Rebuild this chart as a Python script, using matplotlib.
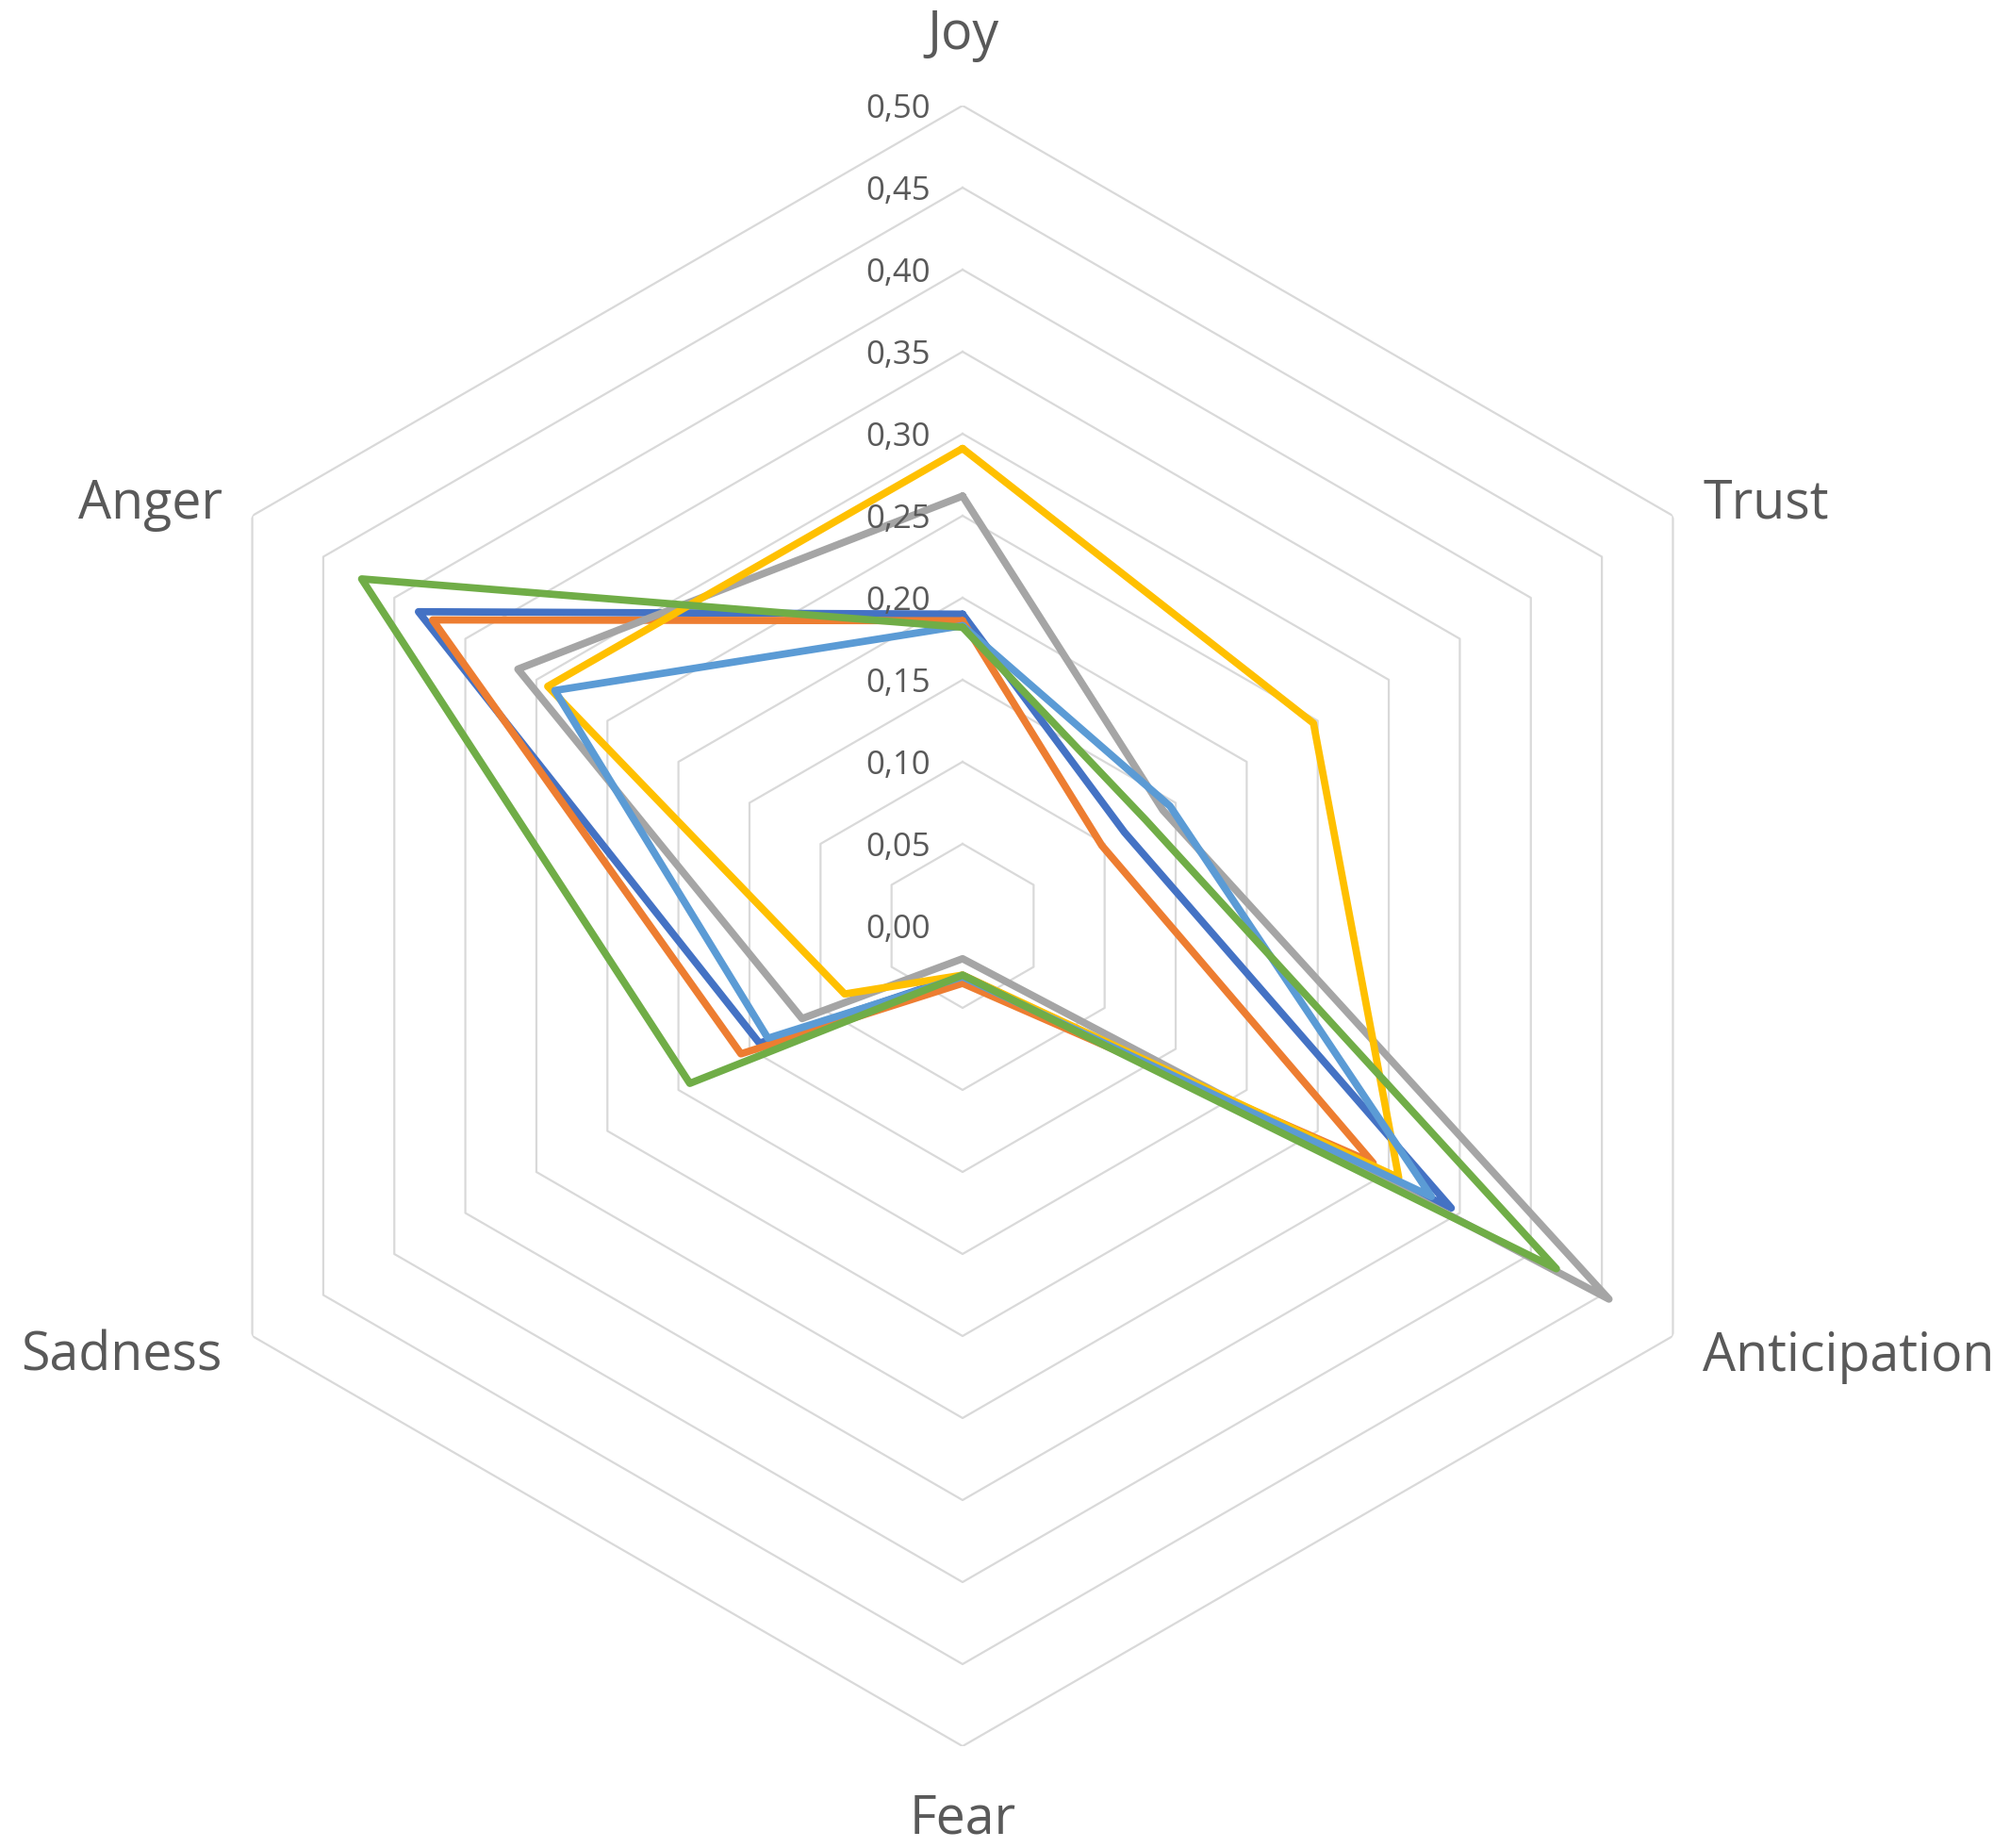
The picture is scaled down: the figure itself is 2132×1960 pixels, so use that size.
import numpy as np
import matplotlib
matplotlib.use("Agg")
import matplotlib.pyplot as plt

# categories clockwise from the top
categories = ['Joy', 'Trust', 'Anticipation', 'Fear', 'Sadness', 'Anger']

# values, one list per series
s1 = [0.190, 0.114, 0.344, 0.030, 0.143, 0.383]   # blue
s2 = [0.186, 0.098, 0.289, 0.035, 0.156, 0.373]   # orange
s3 = [0.262, 0.141, 0.455, 0.020, 0.113, 0.313]   # gray
s4 = [0.291, 0.247, 0.307, 0.030, 0.083, 0.292]   # yellow
s5 = [0.183, 0.146, 0.330, 0.031, 0.137, 0.287]   # light blue
s6 = [0.182, 0.129, 0.418, 0.030, 0.192, 0.423]   # green

rings = [0.05, 0.10, 0.15, 0.20, 0.25, 0.30, 0.35, 0.40, 0.45, 0.50]
tick_labels = ['0,00', '0,05', '0,10', '0,15', '0,20', '0,25', '0,30', '0,35', '0,40', '0,45', '0,50']

colors = ['#4472C4', '#ED7D31', '#A5A5A5', '#FFC000', '#5B9BD5', '#70AD47']
txt = '#595959'

plt.rcParams['font.family'] = ['Open Sans', 'DejaVu Sans']

fig = plt.figure(figsize=(21.32, 19.6), dpi=100)
# center about (1021, 982) px, radius 870 px
cx, cy, R = 1021 / 2132, 1 - 982 / 1960, 870
ax = fig.add_axes([cx - R / 2132, cy - R / 1960, 2 * R / 2132, 2 * R / 1960], projection='polar')
ax.set_theta_offset(np.pi / 2)
ax.set_theta_direction(-1)
ax.set_ylim(0, 0.5)
ax.grid(False)
ax.set_xticks([])
ax.set_yticks([])
ax.spines['polar'].set_visible(False)
ax.patch.set_visible(False)

n = len(categories)
ang = np.linspace(0, 2 * np.pi, n, endpoint=False)
ang_c = np.append(ang, ang[0])

# hexagon grid
for r in rings:
    ax.plot(ang_c, [r] * (n + 1), color='#D9D9D9', lw=1.6, zorder=1)

# data
for s, c in zip([s1, s2, s3, s4, s5, s6], colors):
    ax.plot(ang_c, s + s[:1], color=c, lw=5.6, solid_joinstyle='round',
            solid_capstyle='round', zorder=3)

# value labels left of the Joy axis
for i, lab in enumerate(tick_labels):
    ax.annotate(lab, xy=(0, i * 0.05), xytext=(-34, -4), textcoords='offset pixels',
                ha='right', va='center', fontsize=25, color=txt, zorder=4)

# category labels
offs = [(0, 74, 'center'), (32, 12, 'left'), (32, -22, 'left'),
        (0, -78, 'center'), (-32, -22, 'right'), (-32, 12, 'right')]
for a, lab, (dx, dy, ha) in zip(ang, categories, offs):
    ax.annotate(lab, xy=(a, 0.5), xytext=(dx, dy), textcoords='offset pixels',
                ha=ha, va='center', fontsize=40, color=txt, annotation_clip=False)

fig.savefig('out.png', dpi=100, facecolor='white')
